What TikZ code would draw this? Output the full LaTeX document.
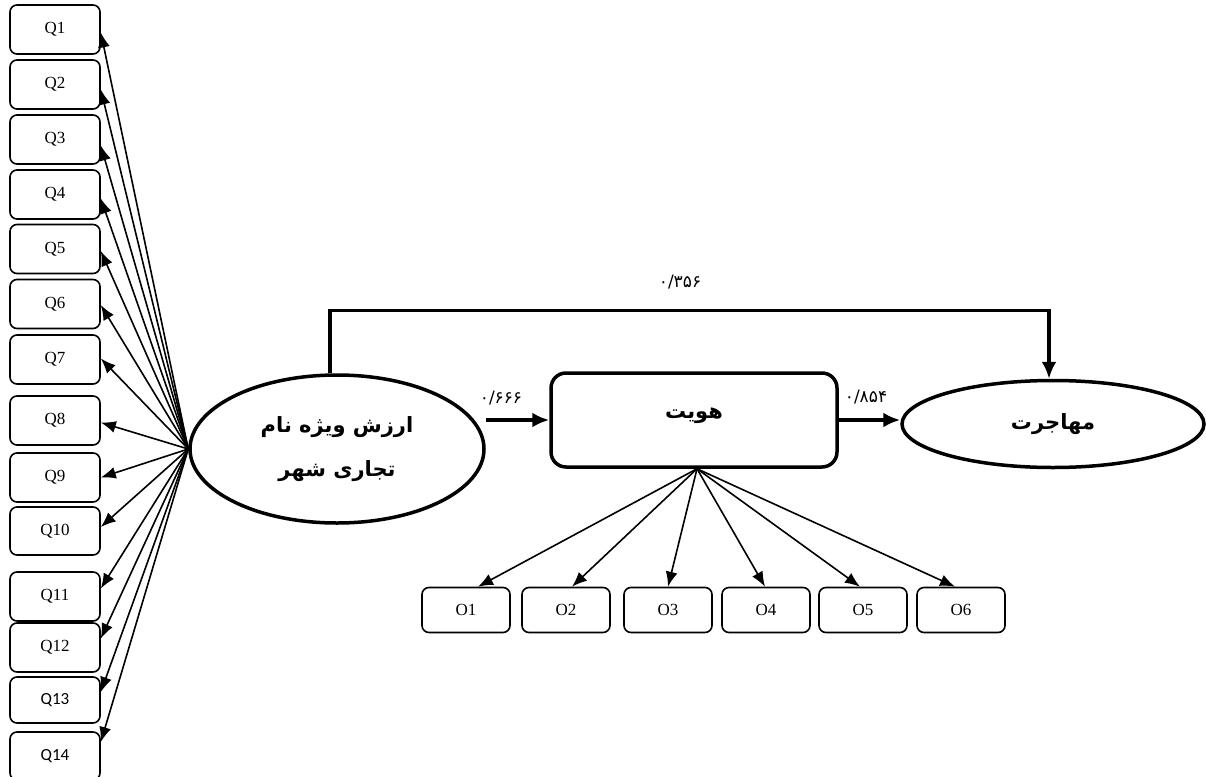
\documentclass[tikz,border=0pt]{standalone}
\usepackage{fontspec}
\setmainfont{Liberation Serif}
\newfontfamily\fa[Script=Arabic]{DejaVu Sans}
\newfontfamily\calfont{Carlito}
\TeXXeTstate=1
\usetikzlibrary{arrows.meta,shapes.geometric}
\begin{document}
\begin{tikzpicture}[x=1pt,y=-1pt,
  qbox/.style={draw,rounded corners=7pt,line width=1.6pt,minimum width=90pt,minimum height=49pt,inner sep=0pt,font=\fontsize{17}{20}\selectfont},
  obox/.style={draw,rounded corners=7pt,line width=1.6pt,minimum width=88pt,minimum height=45pt,inner sep=0pt,font=\fontsize{17}{20}\selectfont},
  thinarrow/.style={line width=1.6pt,-{Latex[length=15pt,width=12pt]}},
  thickarrow/.style={line width=3.5pt,-{Latex[length=17pt,width=15pt]}},
  bigshape/.style={draw,line width=3.5pt,inner sep=0pt},
  fatext/.style={font=\fa\bfseries\fontsize{21}{24}\selectfont},
  numtext/.style={font=\fa\fontsize{17}{20}\selectfont}
]
\clip (0,0) rectangle (1206,776);
\useasboundingbox (0,0) rectangle (1206,776);

% Q boxes
\foreach \i/\yc/\h in {1/29.5/49,2/84.5/49,3/139.5/49,4/194.5/49,5/249/49,6/304/49,7/359.5/49,8/420.5/49,9/477.5/49,10/531/48,11/596.5/49,12/647.5/49}
  \node[qbox,minimum height=\h pt] (q\i) at (55,\yc) {Q\i};
\node[qbox,minimum height=46pt,font=\calfont\fontsize{17}{20}\selectfont] (q13) at (55,700) {Q13};
\node[qbox,minimum height=48pt,font=\calfont\fontsize{17}{20}\selectfont] (q14) at (55,756) {Q14};

% main ellipse
\node[bigshape,ellipse,minimum width=294pt,minimum height=148pt,align=center,fatext] (e) at (337,449)
  {\beginR ارزش ویژه نام\endR\\[20pt]\beginR تجاری شهر\endR};

% identity box
\node[bigshape,rounded corners=15pt,minimum width=286pt,minimum height=94pt,
  label={[fatext,yshift=4pt]center:\beginR هویت\endR}] (hv) at (694,420) {};

% migration ellipse
\node[bigshape,ellipse,minimum width=302pt,minimum height=87pt,fatext] (mh) at (1053,424) {\beginR مهاجرت\endR};

% O boxes
\foreach \i/\xc in {1/466,2/566,3/668,4/766,5/863,6/961}
  \node[obox] (o\i) at (\xc,610) {O\i};

% arrows to Q
\foreach \i/\s in {1/-3,2/-5,3/-6,4/-4,5/-2,6/-1,7/1,8/-2,9/0,10/4,11/8,12/9,13/8,14/14}
  \draw[thinarrow] (e.west) -- ([yshift=\s pt]q\i.east);

% arrows to O
\foreach \i/\s in {1/12,2/6,3/0,4/-1,5/-3,6/-6}
  \draw[thinarrow] ([xshift=3pt]hv.south) -- ([xshift=\s pt]o\i.north);

% main paths
\draw[thickarrow] (e.east |- hv.west) -- (hv.west);
\draw[thickarrow] (hv.east) -- (hv.east -| mh.west);
\draw[thickarrow] ([xshift=-7pt]e.north) -- ++(0,-63) coordinate (tl) -| ([xshift=-4pt]mh.north);

% labels
\node[numtext] (l1) at (680,282) {۰/۳۵۶};
\node[numtext] (l2) at (501,398) {۰/۶۶۶};
\node[numtext] (l3) at (866,397) {۰/۸۵۴};
\end{tikzpicture}
\end{document}
